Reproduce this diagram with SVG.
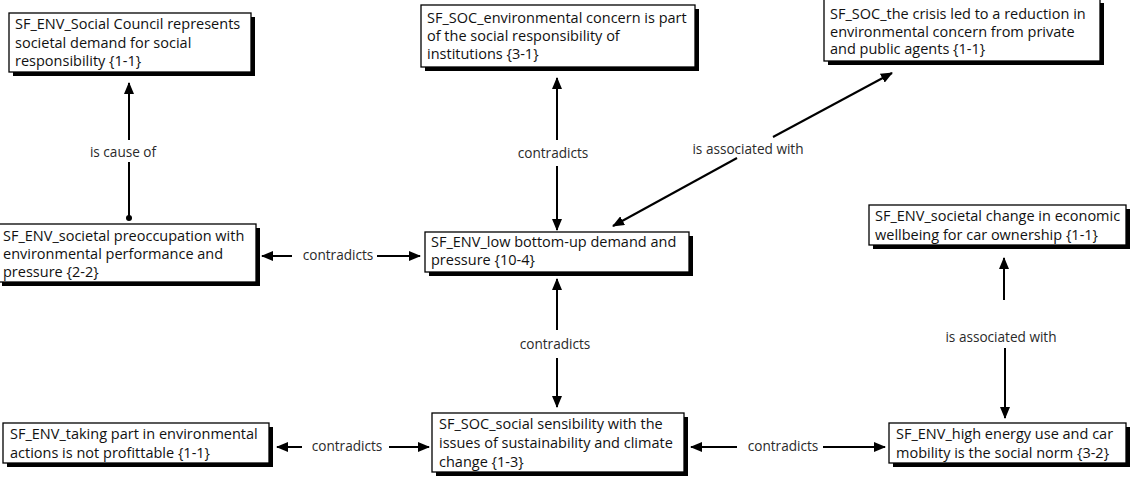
<svg xmlns="http://www.w3.org/2000/svg" width="1137" height="477" viewBox="0 0 1137 477">
  <style>
    .shadow { fill: #000; }
    .box { fill: #fff; stroke: #000; stroke-width: 1.3; }
    .txt { font-family: "Open Sans", "Noto Sans", sans-serif; font-size: 14.5px; fill: #111; }
    .lbl { font-family: "Open Sans", "Noto Sans", sans-serif; font-size: 13.6px; fill: #2a2a2a; text-anchor: middle; }
    .link { fill: none; stroke: #000; stroke-width: 2; }
  </style>
  <defs>
    <marker id="arrow" markerUnits="userSpaceOnUse" markerWidth="12" markerHeight="10" refX="11" refY="5" orient="auto">
      <path d="M0,0 L12,5 L0,10 z" fill="#000"/>
    </marker>
  </defs>
  <rect width="1137" height="477" fill="#fff"/>

  <!-- connectors -->
  <g id="connectors">
    <!-- is cause of -->
    <path class="link" d="M129,140 L129,83" marker-end="url(#arrow)"/>
    <path class="link" d="M129,162 L129,218"/>
    <circle cx="129" cy="218" r="3" fill="#000"/>
    <text class="lbl" x="123" y="157">is cause of</text>

    <!-- upper vertical contradicts -->
    <path class="link" d="M557,140 L557,78" marker-end="url(#arrow)"/>
    <path class="link" d="M557,166 L557,230" marker-end="url(#arrow)"/>
    <text class="lbl" x="553" y="158">contradicts</text>

    <!-- diagonal is associated with -->
    <path class="link" d="M773,137 L892,73" marker-end="url(#arrow)"/>
    <path class="link" d="M737,158 L613,226" marker-end="url(#arrow)"/>
    <text class="lbl" x="748" y="154">is associated with</text>

    <!-- left horizontal contradicts -->
    <path class="link" d="M292,256 L262,256" marker-end="url(#arrow)"/>
    <path class="link" d="M377,256 L420,256" marker-end="url(#arrow)"/>
    <text class="lbl" x="338" y="260">contradicts</text>

    <!-- lower vertical contradicts -->
    <path class="link" d="M557,330 L557,279" marker-end="url(#arrow)"/>
    <path class="link" d="M557,358 L557,407" marker-end="url(#arrow)"/>
    <text class="lbl" x="555" y="349">contradicts</text>

    <!-- bottom left contradicts -->
    <path class="link" d="M302,447 L277,447" marker-end="url(#arrow)"/>
    <path class="link" d="M389,447 L429,447" marker-end="url(#arrow)"/>
    <text class="lbl" x="347" y="451">contradicts</text>

    <!-- bottom right contradicts -->
    <path class="link" d="M737,447 L691,447" marker-end="url(#arrow)"/>
    <path class="link" d="M823,447 L885,447" marker-end="url(#arrow)"/>
    <text class="lbl" x="783" y="451">contradicts</text>

    <!-- right vertical is associated with -->
    <path class="link" d="M1004,300 L1004,258" marker-end="url(#arrow)"/>
    <path class="link" d="M1005,348 L1005,418" marker-end="url(#arrow)"/>
    <text class="lbl" x="1001" y="342">is associated with</text>
  </g>

  <g id="n-social-council">
    <rect class="shadow" x="13" y="17" width="242" height="59"/>
    <rect class="box" x="9" y="13" width="242" height="59"/>
    <text class="txt" x="15" y="29">SF_ENV_Social Council represents</text>
    <text class="txt" x="15" y="47.5">societal demand for social</text>
    <text class="txt" x="15" y="66">responsibility {1-1}</text>
  </g>

  <g id="n-env-concern">
    <rect class="shadow" x="425" y="9" width="274" height="62"/>
    <rect class="box" x="421" y="5" width="274" height="62"/>
    <text class="txt" x="427" y="23">SF_SOC_environmental concern is part</text>
    <text class="txt" x="427" y="41">of the social responsibility of</text>
    <text class="txt" x="427" y="59">institutions {3-1}</text>
  </g>

  <g id="n-crisis">
    <rect class="shadow" x="828" y="3" width="276" height="62"/>
    <rect class="box" x="824" y="-1" width="276" height="62"/>
    <text class="txt" x="830" y="19">SF_SOC_the crisis led to a reduction in</text>
    <text class="txt" x="830" y="36.5">environmental concern from private</text>
    <text class="txt" x="830" y="54">and public agents {1-1}</text>
  </g>

  <g id="n-preoccupation">
    <rect class="shadow" x="2" y="228" width="258" height="58"/>
    <rect class="box" x="-2" y="224" width="258" height="58"/>
    <text class="txt" x="3" y="241">SF_ENV_societal preoccupation with</text>
    <text class="txt" x="3" y="259">environmental performance  and</text>
    <text class="txt" x="3" y="277">pressure {2-2}</text>
  </g>

  <g id="n-low-demand">
    <rect class="shadow" x="429" y="236" width="264" height="40"/>
    <rect class="box" x="425" y="232" width="264" height="40"/>
    <text class="txt" x="431" y="247">SF_ENV_low bottom-up demand and</text>
    <text class="txt" x="431" y="265">pressure {10-4}</text>
  </g>

  <g id="n-car-ownership">
    <rect class="shadow" x="873" y="209" width="257" height="40"/>
    <rect class="box" x="869" y="205" width="257" height="40"/>
    <text class="txt" x="875" y="221">SF_ENV_societal change in economic</text>
    <text class="txt" x="875" y="240">wellbeing for car ownership {1-1}</text>
  </g>

  <g id="n-taking-part">
    <rect class="shadow" x="7" y="427" width="266" height="40"/>
    <rect class="box" x="3" y="423" width="266" height="40"/>
    <text class="txt" x="10" y="439">SF_ENV_taking part in environmental</text>
    <text class="txt" x="10" y="458">actions is not profittable {1-1}</text>
  </g>

  <g id="n-sensibility">
    <rect class="shadow" x="436" y="417" width="252" height="59"/>
    <rect class="box" x="432" y="413" width="252" height="59"/>
    <text class="txt" x="439" y="429">SF_SOC_social sensibility with the</text>
    <text class="txt" x="439" y="448">issues of sustainability and climate</text>
    <text class="txt" x="439" y="467">change {1-3}</text>
  </g>

  <g id="n-high-energy">
    <rect class="shadow" x="893" y="427" width="237" height="40"/>
    <rect class="box" x="889" y="423" width="237" height="40"/>
    <text class="txt" x="896" y="439">SF_ENV_high energy use and car</text>
    <text class="txt" x="896" y="458">mobility is the social norm {3-2}</text>
  </g>
</svg>
